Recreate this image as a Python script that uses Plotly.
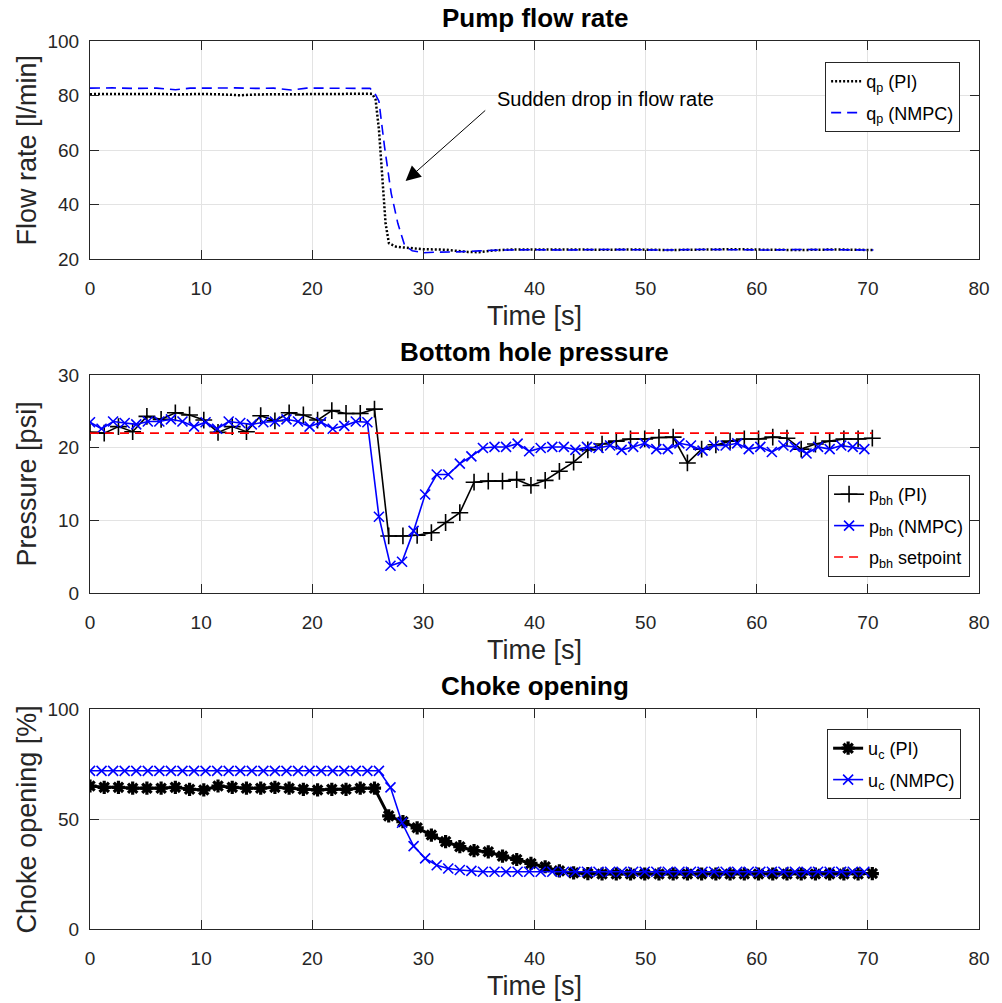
import plotly.graph_objects as go

# ---------------- data ----------------
# Pump flow rate
flow_pi_t = [0, 2, 4, 6, 8, 10, 12, 13.5, 15, 17, 19, 21, 23, 25.4,
             25.7, 26.0, 26.3, 26.6, 26.9, 27.5, 28.0,
             30, 32, 34, 35, 36.5, 38, 40,
             43, 46, 49, 52, 55, 58, 61, 64, 67, 70.5]
flow_pi = [80.5, 80.6, 80.5, 80.6, 80.4, 80.6, 80.4, 80.1, 80.4, 80.5, 80.6, 80.5, 80.6, 80.6,
           78.5, 67.5, 49.0, 33.0, 25.8, 24.6, 24.3,
           23.6, 23.4, 22.6, 22.5, 23.2, 23.5, 23.6,
           23.5, 23.4, 23.5, 23.3, 23.5, 23.6, 23.4, 23.3, 23.5, 23.3]
flow_nmpc_t = [0, 2, 4, 6, 7.7, 9, 11, 13, 15, 16.5, 18.1, 19.5, 21, 23, 25.2,
               25.6, 26.0, 26.5, 27.1, 27.7, 28.3, 29.0, 30, 31, 33, 35, 37,
               40, 43, 46, 49, 52, 55, 58, 61, 64, 67, 70.5]
flow_nmpc = [82.7, 82.8, 82.6, 82.7, 82.1, 82.7, 82.7, 82.8, 82.6, 82.7, 82.0, 82.7, 82.7, 82.7, 82.6,
             81.0, 77.9, 61.3, 44.2, 33.1, 25.2, 23.0, 22.3, 22.5, 22.6, 23.0, 23.3,
             23.4, 23.3, 23.5, 23.4, 23.3, 23.5, 23.4, 23.3, 23.5, 23.4, 23.3]

# sample times
t_pi = [0, 1.28, 2.56, 3.84, 5.12, 6.4, 7.68, 8.96, 10.24, 11.52, 12.8, 14.08, 15.36, 16.64,
        17.92, 19.2, 20.48, 21.76, 23.04, 24.32, 25.6, 26.88, 28.16, 29.44, 30.72, 32.0,
        33.28, 34.56, 35.84, 37.12, 38.4, 39.68, 40.96, 42.24, 43.52, 44.8, 46.08, 47.36,
        48.64, 49.92, 51.2, 52.48, 53.76, 55.04, 56.32, 57.6, 58.88, 60.16, 61.44, 62.72,
        64.0, 65.28, 66.56, 67.84, 69.12, 70.4]
t_nmpc = [0, 1.04, 2.08, 3.12, 4.16, 5.2, 6.24, 7.28, 8.32, 9.36, 10.4, 11.44, 12.48, 13.52,
          14.56, 15.6, 16.64, 17.68, 18.72, 19.76, 20.8, 21.84, 22.88, 23.92, 24.96, 26.0,
          27.04, 28.08, 29.12, 30.16, 31.2, 32.24, 33.28, 34.32, 35.36, 36.4, 37.44, 38.48,
          39.52, 40.56, 41.6, 42.64, 43.68, 44.72, 45.76, 46.8, 47.84, 48.88, 49.92, 50.96,
          52.0, 53.04, 54.08, 55.12, 56.16, 57.2, 58.24, 59.28, 60.32, 61.36, 62.4, 63.44,
          64.48, 65.52, 66.56, 67.6, 68.64, 69.68]

# Bottom hole pressure
p_pi = [22.1, 22.0, 22.9, 22.2, 24.3, 23.9, 24.8, 24.5, 23.8, 22.1, 22.9, 22.2, 24.4, 23.7,
        24.8, 24.5, 23.8, 25.1, 24.7, 24.7, 25.3,
        7.85, 7.85, 7.95, 8.3, 9.7, 11.05, 15.25, 15.4, 15.4, 15.6, 14.8, 15.5, 16.75, 18.0,
        19.7, 20.5, 20.9, 21.2, 21.2, 21.4,
        21.45, 17.9, 19.8, 20.4, 20.9, 21.2, 21.2, 21.45, 21.3, 19.8, 20.5, 20.9, 21.2, 21.2, 21.3]
p_nmpc = [23.5, 22.6, 23.6, 23.4, 23.2, 23.6, 23.6, 23.9, 23.6, 22.9, 23.5, 22.6, 23.6, 23.4,
          23.2, 23.5, 23.6, 23.9, 23.6, 22.9, 23.5, 22.6, 23.0, 23.6, 23.5,
          10.5, 3.75, 4.3, 8.55, 13.55, 16.3, 16.3, 17.8, 18.8, 19.95, 20.1, 20.1, 20.55, 19.5,
          19.95, 20.1, 20.1, 19.7, 20.1, 19.95, 20.3, 19.7, 20.1, 20.6, 19.8, 19.8,
          20.6, 20.3, 19.6, 20.3, 20.3, 20.6, 19.8, 20.1, 19.4, 20.3, 20.1, 19.2, 20.1, 19.8,
          20.3, 20.1, 19.8]
sp_t = [0, 70.4]
sp_p = [22, 22]

# Choke opening
u_pi = [65.0, 64.4, 64.4, 64.0, 64.0, 64.0, 64.4, 63.5, 63.2, 65.0, 64.4, 64.0, 64.0, 64.4,
        64.0, 63.5, 63.2, 63.5, 63.5, 64.0, 64.0,
        51.4, 48.8, 46.0, 42.7, 39.7, 37.4, 35.6, 35.1, 33.1, 31.6, 29.8, 28.3, 26.4, 25.5,
        25.2, 25.0, 25.0, 25.0, 25.0, 25.0, 25.0, 25.0, 25.0, 25.0, 25.0, 25.0, 25.0, 25.0,
        25.0, 25.0, 25.0, 25.0, 25.0, 25.0, 25.2]
u_nmpc = [71.9, 71.9, 71.9, 71.9, 71.9, 71.9, 71.9, 71.9, 71.9, 71.9, 71.9, 71.9, 71.9,
          71.9, 71.9, 71.9, 71.9, 71.9, 71.9, 71.9, 71.9, 71.9, 71.9, 71.9, 71.9, 71.9,
          64.4, 48.3, 37.7, 32.1, 29.0, 27.5, 26.8, 26.4,
          26.0, 26.0, 26.0, 26.0, 26.0, 26.0, 26.0, 26.0, 26.0, 26.0, 26.0, 26.0, 26.0, 26.0,
          26.0, 26.0, 26.0, 26.0, 26.0, 26.0, 26.0, 26.0, 26.0, 26.0, 26.0, 26.0, 26.0, 26.0,
          26.0, 26.0, 26.0, 26.0, 26.0, 26.0]

titles = ["Pump flow rate", "Bottom hole pressure", "Choke opening"]
ylabels = ["Flow rate [l/min]", "Pressure [psi]", "Choke opening [%]"]
xlabel = "Time [s]"
x_ticks = [0, 10, 20, 30, 40, 50, 60, 70, 80]
y_ticks = [[20, 40, 60, 80, 100], [0, 10, 20, 30], [0, 50, 100]]
y_ranges = [[20, 100], [0, 30], [0, 100]]

# ---------------- layout geometry (pixels) ----------------
W, H = 1002, 1003
ML, MR, MT, MB = 90, 17, 41, 74
PW, PH = W - ML - MR, H - MT - MB
panels_px = [(41, 259), (375, 593), (709, 929)]


def py(pix):
    return 1 - (pix - MT) / PH


def px(pix):
    return (pix - ML) / PW


FONT = "Liberation Sans, Arial, Helvetica, sans-serif"
AX_COL = "#262626"
GRID = "#e3e3e3"

fig = go.Figure()

# Panel 1
fig.add_trace(go.Scatter(x=flow_pi_t, y=flow_pi, mode="lines", name="q<sub>p</sub> (PI)",
                         line=dict(color="black", width=2.5, dash="2px,2px"),
                         xaxis="x", yaxis="y", legend="legend", legendgroup="a"))
fig.add_trace(go.Scatter(x=flow_nmpc_t, y=flow_nmpc, mode="lines", name="q<sub>p</sub> (NMPC)",
                         line=dict(color="#0000ff", width=1.6, dash="10px,6px"),
                         xaxis="x", yaxis="y", legend="legend", legendgroup="b"))

# Panel 2
fig.add_trace(go.Scatter(x=t_pi, y=p_pi, mode="lines+markers", name="p<sub>bh</sub> (PI)",
                         line=dict(color="black", width=1.6),
                         marker=dict(symbol="cross-thin-open", size=12,
                                     line=dict(color="black", width=1.6)),
                         xaxis="x2", yaxis="y2", legend="legend2", legendgroup="c"))
fig.add_trace(go.Scatter(x=t_nmpc, y=p_nmpc, mode="lines+markers", name="p<sub>bh</sub> (NMPC)",
                         line=dict(color="#0000ff", width=1.6),
                         marker=dict(symbol="x-thin-open", size=10,
                                     line=dict(color="#0000ff", width=1.6)),
                         xaxis="x2", yaxis="y2", legend="legend2", legendgroup="d"))
fig.add_trace(go.Scatter(x=sp_t, y=sp_p, mode="lines", name="p<sub>bh</sub> setpoint",
                         line=dict(color="#ff0000", width=1.6, dash="9px,6px"),
                         xaxis="x2", yaxis="y2", legend="legend2", legendgroup="e"))

# Panel 3
fig.add_trace(go.Scatter(x=t_pi, y=u_pi, mode="lines+markers", name="u<sub>c</sub> (PI)",
                         line=dict(color="black", width=3),
                         marker=dict(symbol="asterisk-open", size=11,
                                     line=dict(color="black", width=3.2)),
                         xaxis="x3", yaxis="y3", legend="legend3", legendgroup="f"))
fig.add_trace(go.Scatter(x=t_nmpc, y=u_nmpc, mode="lines+markers", name="u<sub>c</sub> (NMPC)",
                         line=dict(color="#0000ff", width=1.6),
                         marker=dict(symbol="x-thin-open", size=10,
                                     line=dict(color="#0000ff", width=1.6)),
                         xaxis="x3", yaxis="y3", legend="legend3", legendgroup="g"))

axis_common = dict(showline=True, linecolor=AX_COL, linewidth=1, mirror="ticks",
                   ticks="inside", ticklen=9, tickwidth=1, tickcolor=AX_COL,
                   showgrid=True, gridcolor=GRID, gridwidth=1, zeroline=False,
                   tickfont=dict(family=FONT, size=19, color=AX_COL))

layout = dict(width=W, height=H, margin=dict(l=ML, r=MR, t=MT, b=MB),
              paper_bgcolor="white", plot_bgcolor="white",
              font=dict(family=FONT, color="black"), annotations=[])

for i, (top, bot) in enumerate(panels_px):
    sfx = "" if i == 0 else str(i + 1)
    xa = dict(axis_common, domain=[0, 1], range=[0, 80], tickvals=x_ticks,
              anchor="y" + sfx, ticklabelstandoff=12)
    ya = dict(axis_common, domain=[max(0, py(bot)), min(1, py(top))], range=y_ranges[i],
              tickvals=y_ticks[i], anchor="x" + sfx, ticklabelstandoff=6)
    layout["xaxis" + sfx] = xa
    layout["yaxis" + sfx] = ya
    # title
    layout["annotations"].append(dict(text="<b>" + titles[i] + "</b>", xref="paper", yref="paper",
                                      x=0.5, y=py(top - 23), xanchor="center", yanchor="middle",
                                      showarrow=False, font=dict(family=FONT, size=26, color="black")))
    # x label
    layout["annotations"].append(dict(text=xlabel, xref="paper", yref="paper",
                                      x=0.5, y=py(bot + 57), xanchor="center", yanchor="middle",
                                      showarrow=False, font=dict(family=FONT, size=27, color=AX_COL)))
    # y label
    layout["annotations"].append(dict(text=ylabels[i], xref="paper", yref="paper",
                                      x=px(27), y=py((top + bot) / 2), xanchor="center",
                                      yanchor="middle", textangle=-90,
                                      showarrow=False, font=dict(family=FONT, size=27, color=AX_COL)))

leg_common = dict(bgcolor="white", bordercolor=AX_COL, borderwidth=1,
                  font=dict(family=FONT, size=18, color="black"),
                  xref="paper", yref="paper", tracegroupgap=5)
layout["legend"] = dict(leg_common, x=px(966), y=py(62), xanchor="right", yanchor="top")
layout["legend2"] = dict(leg_common, x=px(976), y=py(577), xanchor="right", yanchor="bottom")
layout["legend3"] = dict(leg_common, x=px(967), y=py(729), xanchor="right", yanchor="top")

# arrow annotation in panel 1
layout["annotations"].append(dict(x=28.4, y=48.6, ax=35.7, ay=75.0, xref="x", yref="y",
                                  axref="x", ayref="y", text="", showarrow=True,
                                  arrowhead=2, arrowsize=3, arrowwidth=1, arrowcolor="black"))
layout["annotations"].append(dict(x=36.4, y=78.8, xref="x", yref="y", text="Sudden drop in flow rate",
                                  xanchor="left", yanchor="middle", showarrow=False,
                                  font=dict(family=FONT, size=20, color="black")))

fig.update_layout(**layout)
fig.update_layout(showlegend=True)
fig.write_html("out.html")
